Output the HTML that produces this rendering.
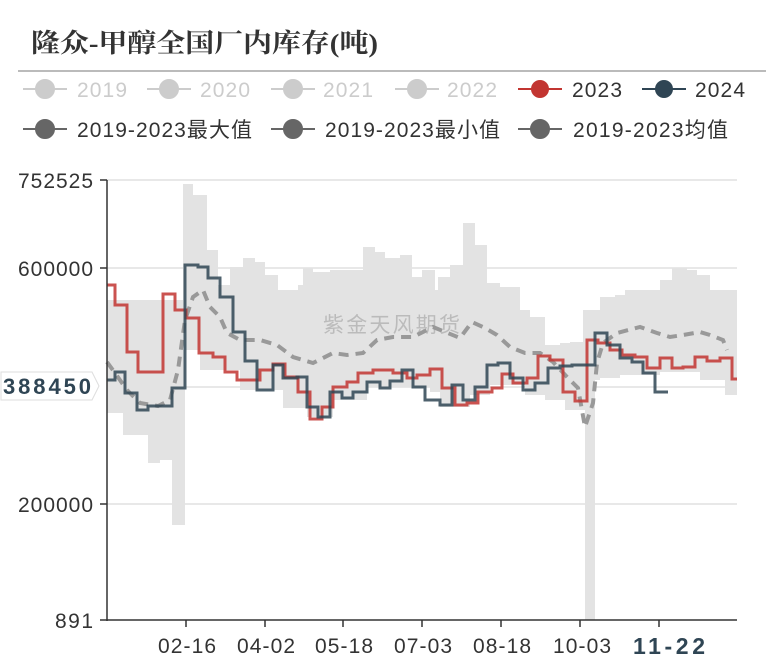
<!DOCTYPE html>
<html><head><meta charset="utf-8"><style>
html,body{margin:0;padding:0;background:#fff;}
svg{display:block;}
</style></head><body>
<svg width="784" height="665" viewBox="0 0 784 665" xmlns="http://www.w3.org/2000/svg" font-family="'Liberation Sans','Noto Sans CJK SC',sans-serif">
<text x="31" y="52" font-family="'Liberation Serif','Noto Serif CJK SC',serif" font-weight="bold" font-size="26" fill="#333" textLength="347" lengthAdjust="spacingAndGlyphs">隆众-甲醇全国厂内库存(吨)</text>
<line x1="18" y1="71" x2="766" y2="71" stroke="#bbb" stroke-width="2"/>
<g font-size="21">
<g stroke="#ccc" stroke-width="2" fill="#ccc">
<line x1="23" y1="89" x2="67" y2="89"/><circle cx="45" cy="89" r="9"/>
<line x1="147" y1="89" x2="191" y2="89"/><circle cx="169" cy="89" r="9"/>
<line x1="271" y1="89" x2="315" y2="89"/><circle cx="293" cy="89" r="9"/>
<line x1="395" y1="89" x2="439" y2="89"/><circle cx="417" cy="89" r="9"/>
</g>
<g fill="#ccc"><text x="77" y="97" textLength="50">2019</text><text x="200" y="97" textLength="50">2020</text><text x="323" y="97" textLength="50">2021</text><text x="447" y="97" textLength="50">2022</text></g>
<line x1="518" y1="89" x2="562" y2="89" stroke="#c23531" stroke-width="2"/><circle cx="540" cy="89" r="9" fill="#c23531"/>
<text x="572" y="97" fill="#333" textLength="50">2023</text>
<line x1="642" y1="89" x2="686" y2="89" stroke="#2f4554" stroke-width="2"/><circle cx="664" cy="89" r="9" fill="#2f4554"/>
<text x="695" y="97" fill="#333" textLength="50">2024</text>
<g stroke="#666" stroke-width="2" fill="#666">
<line x1="23" y1="129" x2="67" y2="129"/><circle cx="45" cy="129" r="9"/>
<line x1="271" y1="129" x2="315" y2="129"/><circle cx="293" cy="129" r="9"/>
<line x1="518" y1="129" x2="562" y2="129"/><circle cx="540" cy="129" r="9"/>
</g>
<g fill="#333"><text x="77" y="137" textLength="175">2019-2023最大值</text><text x="325" y="137" textLength="175">2019-2023最小值</text><text x="573" y="137" textLength="155">2019-2023均值</text></g>
</g>
<g stroke="#e0e0e0" stroke-width="1.5">
<line x1="107" y1="180" x2="737" y2="180"/><line x1="107" y1="268" x2="737" y2="268"/>
<line x1="107" y1="387" x2="737" y2="387"/><line x1="107" y1="504" x2="737" y2="504"/>
</g>
<polygon fill="#e3e3e3" points="107,300 183,300 183,184 193,184 193,195 207,195 207,250 218,250 218,285 230,285 230,267 243,267 243,258 255,258 255,262 265,262 265,275 278,275 278,290 298,290 298,285 303,285 303,268 313,268 313,272 330,272 330,270 363,270 363,247 375,247 375,252 385,252 385,258 400,258 400,255 412,255 412,277 422,277 422,270 435,270 435,290 438,290 438,277 450,277 450,265 463,265 463,223 475,223 475,245 487,245 487,283 500,283 500,287 520,287 520,310 530,310 530,317 545,317 545,345 560,345 560,343 570,343 570,342 583,342 583,310 600,310 600,297 615,297 615,295 625,295 625,290 660,290 660,280 672,280 672,268 687,268 687,270 697,270 697,275 710,275 710,290 737,290 737,285 737,395 725,395 725,380 700,380 700,372 660,372 660,375 620,375 620,378 600,378 600,380 595,380 595,620 585,620 585,410 565,410 565,400 545,400 545,395 525,395 525,385 490,385 490,395 470,395 470,407 440,407 440,392 430,392 430,387 367,387 367,400 333,400 333,417 307,417 307,408 283,408 283,390 240,390 240,370 200,370 200,350 185,350 185,525 172,525 172,460 160,460 160,463 148,463 148,435 123,435 123,413 107,413"/>
<text x="323" y="332" font-size="21" fill="#bbb" textLength="137">紫金天风期货</text>
<polyline fill="none" stroke="#999" stroke-width="4" stroke-dasharray="10,7" points="107,362 115,373 127,390 140,403 158,406 170,400 178,370 185,320 193,297 203,290 210,307 220,317 227,333 240,340 260,340 277,345 293,357 313,363 333,353 347,355 363,353 377,340 393,337 413,337 433,327 460,338 472,322 485,328 497,335 510,347 525,353 540,353 553,362 568,378 578,388 585,427 593,403 597,363 603,343 617,333 640,327 657,333 670,337 683,335 700,332 710,335 723,340 727,350"/>
<polyline fill="none" stroke="#c23531" stroke-opacity="0.85" stroke-width="3" points="107,285 115,285 115,305 127,305 127,352 138,352 138,372 163,372 163,294 175,294 175,310 186,310 186,318 199,318 199,353 213,353 213,357 225,357 225,372 237,372 237,380 260,380 260,370 273,370 273,364 285,364 285,377 298,377 298,392 310,392 310,419 322,419 322,407 333,407 333,387 347,387 347,382 358,382 358,373 373,373 373,370 393,370 393,373 407,373 407,378 417,378 417,375 430,375 430,369 442,369 442,388 455,388 455,405 467,405 467,403 478,403 478,392 492,392 492,388 502,388 502,374 513,374 513,383 527,383 527,378 538,378 538,356 550,356 550,360 563,360 563,392 575,392 575,401 587,401 587,340 598,340 598,343 610,343 610,350 622,350 622,355 635,355 635,357 647,357 647,368 660,368 660,358 672,358 672,368 683,368 683,367 695,367 695,357 707,357 707,361 720,361 720,358 732,358 732,379 737,379"/>
<polyline fill="none" stroke="#2f4554" stroke-opacity="0.85" stroke-width="3" points="107,380 115,380 115,372 125,372 125,393 137,393 137,410 148,410 148,406 172,406 172,388 185,388 185,265 198,265 198,267 208,267 208,278 220,278 220,297 233,297 233,332 245,332 245,361 257,361 257,390 273,390 273,365 283,365 283,378 297,378 297,377 307,377 307,407 318,407 318,417 330,417 330,392 342,392 342,398 353,398 353,392 367,392 367,382 380,382 380,388 390,388 390,381 402,381 402,370 413,370 413,387 425,387 425,400 440,400 440,405 452,405 452,385 463,385 463,400 475,400 475,387 487,387 487,365 498,365 498,363 510,363 510,378 523,378 523,390 535,390 535,383 548,383 548,368 560,368 560,366 572,366 572,365 595,365 595,333 607,333 607,345 620,345 620,358 632,358 632,362 643,362 643,373 655,373 655,392 668,392"/>
<line x1="107" y1="180" x2="107" y2="621" stroke="#333" stroke-width="1.5"/>
<line x1="107" y1="620" x2="737" y2="620" stroke="#333" stroke-width="1.5"/>
<g stroke="#333" stroke-width="1.5">
<line x1="100" y1="180" x2="107" y2="180"/><line x1="100" y1="268" x2="107" y2="268"/><line x1="100" y1="504" x2="107" y2="504"/><line x1="100" y1="620" x2="107" y2="620"/>
<line x1="186" y1="620" x2="186" y2="627"/><line x1="265" y1="620" x2="265" y2="627"/><line x1="343" y1="620" x2="343" y2="627"/><line x1="422" y1="620" x2="422" y2="627"/><line x1="501" y1="620" x2="501" y2="627"/><line x1="580" y1="620" x2="580" y2="627"/><line x1="659" y1="620" x2="659" y2="627"/>
</g>
<g font-size="21" fill="#333" text-anchor="end">
<text x="93" y="188" textLength="75">752525</text><text x="93" y="276" textLength="75">600000</text><text x="93" y="512" textLength="75">200000</text><text x="93" y="628" textLength="38">891</text>
</g>
<g font-size="21" fill="#333">
<text x="158" y="653" textLength="58">02-16</text><text x="237" y="653" textLength="58">04-02</text><text x="315" y="653" textLength="58">05-18</text><text x="394" y="653" textLength="58">07-03</text><text x="473" y="653" textLength="58">08-18</text><text x="553" y="653" textLength="58">10-03</text>
</g>
<rect x="625" y="630" width="88" height="30" fill="#fff"/>
<text x="633" y="654" font-size="23" font-weight="bold" fill="#2f4554" textLength="72">11-22</text>
<path d="M1,372 L92,372 L99,386 L92,400 L1,400 Z" fill="#fff" stroke="#ddd" stroke-width="1"/>
<text x="3" y="394" font-size="22" font-weight="bold" fill="#2f4554" textLength="88">388450</text>
</svg>
</body></html>
